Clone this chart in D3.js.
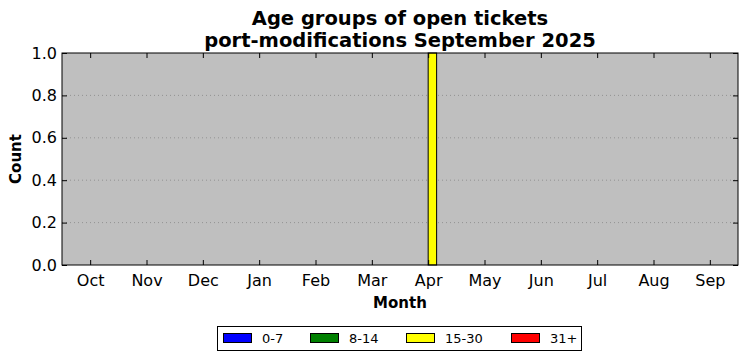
<!DOCTYPE html>
<html>
<head>
<meta charset="utf-8">
<script src="https://cdn.jsdelivr.net/npm/d3@7"></script>
<style>
  body { margin: 0; background: #fff; }
  text { font-family: "DejaVu Sans", sans-serif; }
</style>
</head>
<body>
<div id="chart"></div>
<script>
// months shown on the x axis
var months = ["Oct", "Nov", "Dec", "Jan", "Feb", "Mar", "Apr", "May", "Jun", "Jul", "Aug", "Sep"];
// age groups (legend order)
var groups = ["0-7", "8-14", "15-30", "31+"];
var groupColors = ["#0000ff", "#008000", "#ffff00", "#ff0000"];
// open ticket counts per month, one array per age group
var counts0to7   = [0, 0, 0, 0, 0, 0, 0, 0, 0, 0, 0, 0];
var counts8to14  = [0, 0, 0, 0, 0, 0, 0, 0, 0, 0, 0, 0];
var counts15to30 = [0, 0, 0, 0, 0, 0, 1, 0, 0, 0, 0, 0];
var counts31plus = [0, 0, 0, 0, 0, 0, 0, 0, 0, 0, 0, 0];
var yTicks = [0, 0.2, 0.4, 0.6, 0.8, 1.0];

var series = [counts0to7, counts8to14, counts15to30, counts31plus];

var W = 747, H = 361;
var margin = {top: 53, right: 9, bottom: 96, left: 62};
var width = W - margin.left - margin.right,
    height = H - margin.top - margin.bottom;

var svg = d3.select("#chart").append("svg")
    .attr("width", W).attr("height", H);

// title
svg.append("text")
    .attr("x", margin.left + width / 2).attr("y", 25)
    .attr("text-anchor", "middle").attr("font-size", "19.5px").attr("font-weight", "bold")
    .text("Age groups of open tickets");
svg.append("text")
    .attr("x", margin.left + width / 2).attr("y", 47)
    .attr("text-anchor", "middle").attr("font-size", "19.5px").attr("font-weight", "bold")
    .text("port-modifications September 2025");

var g = svg.append("g").attr("transform", "translate(" + margin.left + "," + margin.top + ")");

var x = d3.scaleLinear().domain([-0.5, months.length - 0.5]).range([0, width]);
var y = d3.scaleLinear().domain([0, 1]).range([height, 0]);

g.append("rect").attr("width", width).attr("height", height).attr("fill", "#bfbfbf");

// dotted grid
g.selectAll(".grid").data(yTicks.slice(1, -1)).enter().append("line")
    .attr("x1", 0).attr("x2", width)
    .attr("y1", function(d) { return y(d); }).attr("y2", function(d) { return y(d); })
    .attr("stroke", "#888").attr("stroke-width", 0.8).attr("stroke-dasharray", "1,3");

// bars: each age group offset side by side, bar width 0.15 of a month
var barW = 0.15;
series.forEach(function(vals, si) {
    var off = (si - 2) * barW;
    var pts = vals.map(function(v, i) { return {i: i, v: v}; }).filter(function(d) { return d.v > 0; });
    g.selectAll(".bar" + si).data(pts).enter().append("rect")
        .attr("x", function(d) { return x(d.i + off); })
        .attr("width", x(barW) - x(0))
        .attr("y", function(d) { return y(d.v); })
        .attr("height", function(d) { return y(0) - y(d.v); })
        .attr("fill", groupColors[si])
        .attr("stroke", "#000").attr("stroke-width", 1);
});

// axes with inward ticks on all sides
var xAxis = d3.axisBottom(x).tickValues(d3.range(months.length))
    .tickFormat(function(i) { return months[i]; }).tickSizeInner(-5).tickSizeOuter(0).tickPadding(10);
var gx = g.append("g").attr("transform", "translate(0," + height + ")").call(xAxis);
gx.selectAll("text").attr("font-size", "16px").attr("fill", "#000");

var xTop = d3.axisTop(x).tickValues(d3.range(months.length)).tickFormat("").tickSizeInner(-5).tickSizeOuter(0);
g.append("g").call(xTop);

var yAxis = d3.axisLeft(y).tickValues(yTicks).tickFormat(d3.format(".1f")).tickSizeInner(-5).tickSizeOuter(0).tickPadding(5);
var gy = g.append("g").call(yAxis);
gy.selectAll("text").attr("font-size", "16px").attr("fill", "#000");

var yRight = d3.axisRight(y).tickValues(yTicks).tickFormat("").tickSizeInner(-5).tickSizeOuter(0);
g.append("g").attr("transform", "translate(" + width + ",0)").call(yRight);

g.selectAll(".domain").remove();
g.selectAll(".tick line").attr("stroke", "#000");

// frame
g.append("rect").attr("width", width).attr("height", height)
    .attr("fill", "none").attr("stroke", "#000").attr("stroke-width", 1);

// axis labels
svg.append("text")
    .attr("x", margin.left + width / 2).attr("y", 308)
    .attr("text-anchor", "middle").attr("font-size", "15px").attr("font-weight", "bold")
    .text("Month");
svg.append("text")
    .attr("transform", "translate(21," + (margin.top + height / 2) + ") rotate(-90)")
    .attr("text-anchor", "middle").attr("font-size", "15px").attr("font-weight", "bold")
    .text("Count");

// legend
var legend = svg.append("g");
legend.append("rect").attr("x", 217.5).attr("y", 326.5).attr("width", 364).attr("height", 24)
    .attr("fill", "#fff").attr("stroke", "#000").attr("stroke-width", 1);
var legX = [223, 310, 406, 511];
groups.forEach(function(name, i) {
    legend.append("rect").attr("x", legX[i] + 0.5).attr("y", 333.5).attr("width", 28).attr("height", 9)
        .attr("fill", groupColors[i]).attr("stroke", "#000").attr("stroke-width", 1);
    legend.append("text").attr("x", legX[i] + 39).attr("y", 343)
        .attr("font-size", "13px").text(name);
});
</script>
</body>
</html>
